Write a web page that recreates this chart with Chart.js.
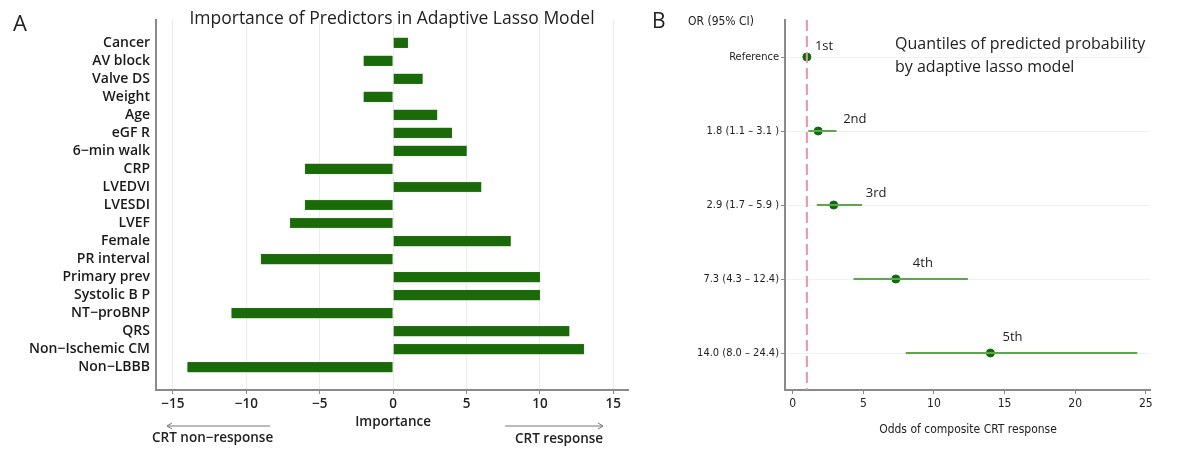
<!DOCTYPE html>
<html>
<head>
<meta charset="utf-8">
<script src="https://cdn.jsdelivr.net/npm/chart.js@4.4.1/dist/chart.umd.min.js"></script>
<style>
  body { margin: 0; background: #fff; }
  #wrap { position: relative; width: 1200px; height: 459px; }
  #boxA { position: absolute; left: 0; top: 0; }
  #boxB { position: absolute; left: 640px; top: 0; }
</style>
</head>
<body>
<div id="wrap">
  <div id="boxA"><canvas id="chartA" width="640" height="459"></canvas></div>
  <div id="boxB"><canvas id="chartB" width="560" height="459"></canvas></div>
</div>
<script>
// panel A data
var predictors = ['Cancer', 'AV block', 'Valve DS', 'Weight', 'Age', 'eGF R', '6\u2212min walk', 'CRP',
  'LVEDVI', 'LVESDI', 'LVEF', 'Female', 'PR interval', 'Primary prev', 'Systolic B P',
  'NT\u2212proBNP', 'QRS', 'Non\u2212Ischemic CM', 'Non\u2212LBBB'];
var importance = [1, -2, 2, -2, 3, 4, 5, -6, 6, -6, -7, 8, -9, 10, 10, -11, 12, 13, -14];
var ticksA = [-15, -10, -5, 0, 5, 10, 15];

// panel B data
var quantiles = ['1st', '2nd', '3rd', '4th', '5th'];
var orLabels = ['Reference', '1.8 (1.1 \u2013 3.1 )', '2.9 (1.7 \u2013 5.9 )', '7.3 (4.3 \u2013 12.4)', '14.0 (8.0 \u2013 24.4)'];
var oddsRatio = [1.0, 1.8, 2.9, 7.3, 14.0];
var ciLow = [null, 1.1, 1.7, 4.3, 8.0];
var ciHigh = [null, 3.1, 4.9, 12.4, 24.4];
var refLine = 1;
var ticksB = [0, 5, 10, 15, 20, 25];

var axisGray = '#8a8a8a';
var sans = '"Open Sans", Lato, sans-serif';
var narrow = '"Liberation Sans Narrow", "DejaVu Sans Condensed", sans-serif';

function arrow(ctx, x1, x2, y) {
  var d = x2 > x1 ? 1 : -1;
  ctx.beginPath();
  ctx.moveTo(x1, y);
  ctx.lineTo(x2, y);
  ctx.moveTo(x2 - d * 5, y - 3);
  ctx.lineTo(x2, y);
  ctx.lineTo(x2 - d * 5, y + 3);
  ctx.stroke();
}

var textA = {
  id: 'textA',
  afterDraw: function(chart) {
    var ctx = chart.ctx;
    ctx.save();
    ctx.fillStyle = '#222';
    ctx.textBaseline = 'middle';
    ctx.font = '22px ' + sans;
    ctx.textAlign = 'left';
    ctx.fillText('A', 13, 25);
    ctx.font = '17.5px ' + sans;
    ctx.textAlign = 'center';
    ctx.fillText('Importance of Predictors in Adaptive Lasso Model', 392, 19);
    ctx.font = '600 13.5px ' + sans;
    ctx.fillText('Importance', chart.scales.x.getPixelForValue(0), 422);
    ctx.textAlign = 'left';
    ctx.fillText('CRT non\u2212response', 152, 438);
    ctx.fillText('CRT response', 515, 439);
    ctx.strokeStyle = '#777';
    ctx.lineWidth = 1;
    arrow(ctx, 270, 167, 426);
    arrow(ctx, 505, 603, 426);
    ctx.restore();
  }
};

new Chart(document.getElementById('chartA'), {
  type: 'bar',
  data: {
    datasets: [{
      data: importance.map(function(v, i) { return { x: v, y: i }; }),
      backgroundColor: '#1b6a0a',
      borderColor: '#2f7d1e',
      borderWidth: 0.5,
      barThickness: 10
    }]
  },
  options: {
    indexAxis: 'y',
    responsive: false,
    animation: false,
    layout: { padding: { left: 0, right: 12, top: 20, bottom: 0 } },
    plugins: { legend: { display: false }, tooltip: { enabled: false } },
    scales: {
      x: {
        type: 'linear',
        min: -16.15,
        max: 16,
        afterBuildTicks: function(s) { s.ticks = ticksA.map(function(v) { return { value: v }; }); },
        afterFit: function(s) { s.height = 69; },
        ticks: {
          color: '#222',
          font: { family: sans, size: 13.5, weight: '600' },
          padding: 2,
          callback: function(v) { return String(v).replace('-', '\u2212'); }
        },
        grid: { color: '#ececec', lineWidth: 1, tickColor: axisGray, tickLength: 4 },
        border: { color: axisGray, width: 2 }
      },
      y: {
        type: 'linear',
        reverse: true,
        min: -0.72,
        max: 18.72,
        afterBuildTicks: function(s) { s.ticks = predictors.map(function(p, i) { return { value: i }; }); },
        afterFit: function(s) { s.width = 156; },
        ticks: {
          color: '#1a1a1a',
          autoSkip: false,
          font: { family: sans, size: 14, weight: '600' },
          padding: 6,
          callback: function(v) { return predictors[v]; }
        },
        grid: { drawOnChartArea: false, drawTicks: false },
        border: { color: axisGray, width: 2 }
      }
    }
  },
  plugins: [textA]
});

var labelDx = [8, 25, 32, 17, 12];
var labelDy = [-11, -12, -12, -16, -16];

var textB = {
  id: 'textB',
  afterDraw: function(chart) {
    var ctx = chart.ctx, xs = chart.scales.x, ys = chart.scales.y;
    ctx.save();
    ctx.fillStyle = '#222';
    ctx.textBaseline = 'middle';
    ctx.textAlign = 'left';
    ctx.font = '21px ' + sans;
    ctx.fillText('B', 12, 22);
    ctx.font = '12px ' + narrow;
    ctx.fillText('OR (95% CI)', 48, 22);
    ctx.font = '16px ' + sans;
    ctx.fillText('Quantiles of predicted probability', 255, 44);
    ctx.fillText('by adaptive lasso model', 255, 67);
    ctx.font = '13px ' + sans;
    quantiles.forEach(function(q, i) {
      ctx.fillText(q, xs.getPixelForValue(oddsRatio[i]) + labelDx[i], ys.getPixelForValue(i) + labelDy[i]);
    });
    ctx.font = '12px ' + narrow;
    ctx.textAlign = 'center';
    ctx.fillText('Odds of composite CRT response', 328, 430);
    ctx.restore();
  }
};

var ciSets = [];
oddsRatio.forEach(function(v, i) {
  if (ciLow[i] === null) return;
  ciSets.push({
    type: 'line',
    data: [{ x: ciLow[i], y: i }, { x: ciHigh[i], y: i }],
    borderColor: '#5aa84a',
    borderWidth: 2,
    pointRadius: 0
  });
});

new Chart(document.getElementById('chartB'), {
  type: 'scatter',
  data: {
    datasets: [{
      type: 'line',
      data: [{ x: refLine, y: -0.5 }, { x: refLine, y: 4.5 }],
      borderColor: '#e897aa',
      borderWidth: 2,
      borderDash: [11, 5],
      pointRadius: 0
    }].concat(ciSets).concat([{
      data: oddsRatio.map(function(v, i) { return { x: v, y: i }; }),
      backgroundColor: '#0d6a0d',
      borderColor: '#0d6a0d',
      pointRadius: 4
    }])
  },
  options: {
    responsive: false,
    animation: false,
    layout: { padding: { left: 0, right: 50, top: 20, bottom: 0 } },
    plugins: { legend: { display: false }, tooltip: { enabled: false } },
    scales: {
      x: {
        type: 'linear',
        min: -0.55,
        max: 25.3,
        afterBuildTicks: function(s) { s.ticks = ticksB.map(function(v) { return { value: v }; }); },
        afterFit: function(s) { s.height = 69; },
        ticks: { color: '#222', font: { family: narrow, size: 12 }, padding: 3 },
        grid: { drawOnChartArea: false, tickColor: axisGray, tickLength: 4 },
        border: { color: axisGray, width: 2 }
      },
      y: {
        type: 'linear',
        reverse: true,
        min: -0.5,
        max: 4.5,
        afterBuildTicks: function(s) { s.ticks = orLabels.map(function(p, i) { return { value: i }; }); },
        afterFit: function(s) { s.width = 145; },
        ticks: {
          color: '#222',
          autoSkip: false,
          font: { family: narrow, size: 11 },
          padding: 2,
          callback: function(v) { return orLabels[v]; }
        },
        grid: { color: '#eef3ee', tickColor: axisGray, tickLength: 4 },
        border: { color: axisGray, width: 2 }
      }
    }
  },
  plugins: [textB]
});
</script>
</body>
</html>
